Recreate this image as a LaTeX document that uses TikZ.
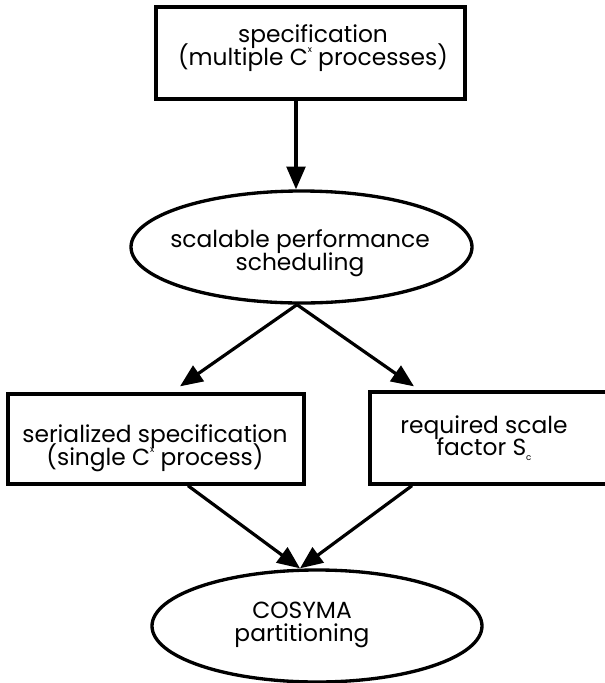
\documentclass[tikz,border=0pt]{standalone}
\usepackage{fontspec}
\setmainfont{Poppins}
\usetikzlibrary{arrows.meta,shapes.geometric}

% one drawing unit
\newdimen\px
\px=0.75pt

\newcommand{\supx}{\smash{\raisebox{0.55em}{\fontsize{6.5pt}{6.5pt}\selectfont x}}}
\newcommand{\subc}{\smash{\raisebox{-0.25em}{\fontsize{6.5pt}{6.5pt}\selectfont c}}}

\tikzset{
  outline/.style={draw=black, line width=2.5pt, fill=none, inner sep=0pt},
  stepbox/.style={outline, rectangle},
  stepoval/.style={outline, ellipse},
  label/.style={anchor=base, inner sep=0pt, font=\fontsize{17.5pt}{19pt}\selectfont},
  flow/.style={line width=2.4pt, -{Triangle[length=17pt, width=14pt]}},
}

\begin{document}
\begin{tikzpicture}[x=0.75pt, y=-0.75pt]
  \useasboundingbox (0,0) rectangle (605,683);
  \clip (0,0) rectangle (605,683);
  \fill[white] (0,0) rectangle (605,683);

  % shapes
  \node[stepbox, minimum width=309\px, minimum height=92\px] (spec) at (310.5,53) {};
  \node[stepoval, minimum width=341\px, minimum height=112\px] (sched) at (301.5,247) {};
  \node[stepbox, minimum width=296\px, minimum height=90\px] (serial) at (156,439) {};
  \node[stepbox, minimum width=250\px, minimum height=92\px] (scale) at (495,438) {};
  \node[stepoval, minimum width=330\px, minimum height=112\px] (cosyma) at (317,626) {};

  % texts
  \node[label] (t1) at (313,42) {specification};
  \node[label] (t2) at (313,65) {(multiple C\supx{} processes)};
  \node[label] (t3) at (300,247) {scalable performance};
  \node[label] (t4) at (300,270) {scheduling};
  \node[label] (t5) at (155,442) {serialized specification};
  \node[label] (t6) at (155,465) {(single C\supx{} process)};
  \node[label] (t7) at (484,433) {required scale};
  \node[label] (t8) at (484,455) {factor S\subc};
  \node[label] (t9) at (302,618) {COSYMA};
  \node[label] (t10) at (302,641) {partitioning};

  % connectors
  \draw[flow] ([xshift=-14.5\px]spec.south) -- ([xshift=-5.5\px]sched.north);
  \draw[flow] ([xshift=-4.5\px]sched.south) -- ([xshift=24\px,yshift=6\px]serial.north);
  \draw[flow] ([xshift=-4.5\px]sched.south) -- ([xshift=-81\px,yshift=4\px]scale.north);
  \draw[flow] ([xshift=32\px]serial.south) -- ([xshift=-17\px]cosyma.north);
  \draw[flow] ([xshift=-83\px]scale.south) -- ([xshift=-17\px]cosyma.north);
\end{tikzpicture}
\end{document}
